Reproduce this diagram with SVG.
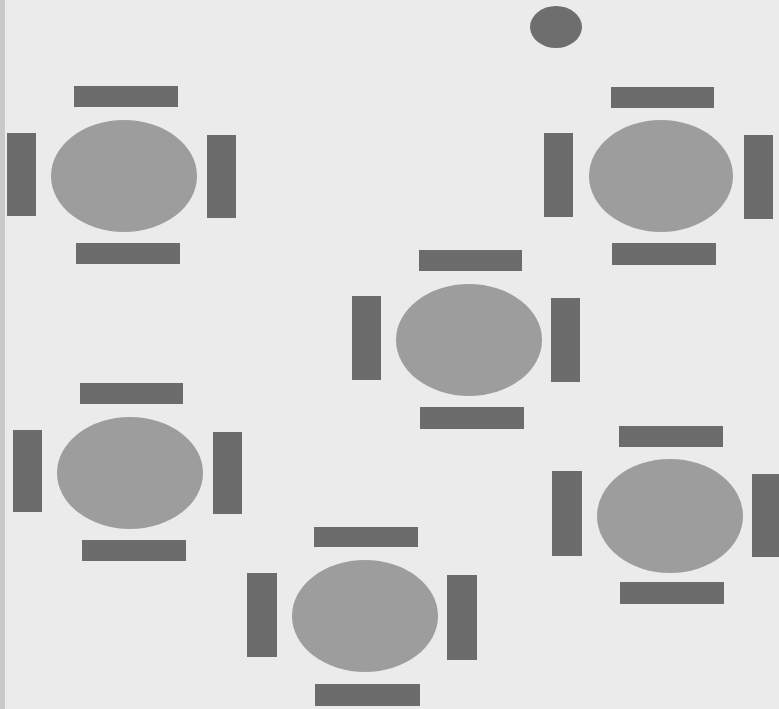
<svg xmlns="http://www.w3.org/2000/svg" width="779" height="709" viewBox="0 0 779 709">
<style>
.bg{fill:#ebebeb}
.chair{fill:#6c6c6c}
.table{fill:#9d9d9d}
.dot{fill:#6e6e6e}
</style>
<rect class="bg" x="0" y="0" width="779" height="709"/>
<rect x="0" y="0" width="5" height="709" fill="#c9c9c9"/>
<ellipse class="dot" cx="556" cy="27" rx="26" ry="21"/>
<g id="table1">
<rect class="chair" x="74" y="86" width="104" height="21"/>
<rect class="chair" x="7" y="133" width="29" height="83"/>
<ellipse class="table" cx="124" cy="176" rx="73" ry="56"/>
<rect class="chair" x="207" y="135" width="29" height="83"/>
<rect class="chair" x="76" y="243" width="104" height="21"/>
</g>
<g id="table2">
<rect class="chair" x="611" y="87" width="103" height="21"/>
<rect class="chair" x="544" y="133" width="29" height="84"/>
<ellipse class="table" cx="661" cy="176" rx="72" ry="56"/>
<rect class="chair" x="744" y="135" width="29" height="84"/>
<rect class="chair" x="612" y="243" width="104" height="22"/>
</g>
<g id="table3">
<rect class="chair" x="419" y="250" width="103" height="21"/>
<rect class="chair" x="352" y="296" width="29" height="84"/>
<ellipse class="table" cx="469" cy="340" rx="73" ry="56"/>
<rect class="chair" x="551" y="298" width="29" height="84"/>
<rect class="chair" x="420" y="407" width="104" height="22"/>
</g>
<g id="table4">
<rect class="chair" x="80" y="383" width="103" height="21"/>
<rect class="chair" x="13" y="430" width="29" height="82"/>
<ellipse class="table" cx="130" cy="473" rx="73" ry="56"/>
<rect class="chair" x="213" y="432" width="29" height="82"/>
<rect class="chair" x="82" y="540" width="104" height="21"/>
</g>
<g id="table5">
<rect class="chair" x="619" y="426" width="104" height="21"/>
<rect class="chair" x="552" y="471" width="30" height="85"/>
<ellipse class="table" cx="670" cy="516" rx="73" ry="57"/>
<rect class="chair" x="752" y="474" width="27" height="83"/>
<rect class="chair" x="620" y="582" width="104" height="22"/>
</g>
<g id="table6">
<rect class="chair" x="314" y="527" width="104" height="20"/>
<rect class="chair" x="247" y="573" width="30" height="84"/>
<ellipse class="table" cx="365" cy="616" rx="73" ry="56"/>
<rect class="chair" x="447" y="575" width="30" height="85"/>
<rect class="chair" x="315" y="684" width="105" height="22"/>
</g>
<g id="connectors"/>
</svg>
